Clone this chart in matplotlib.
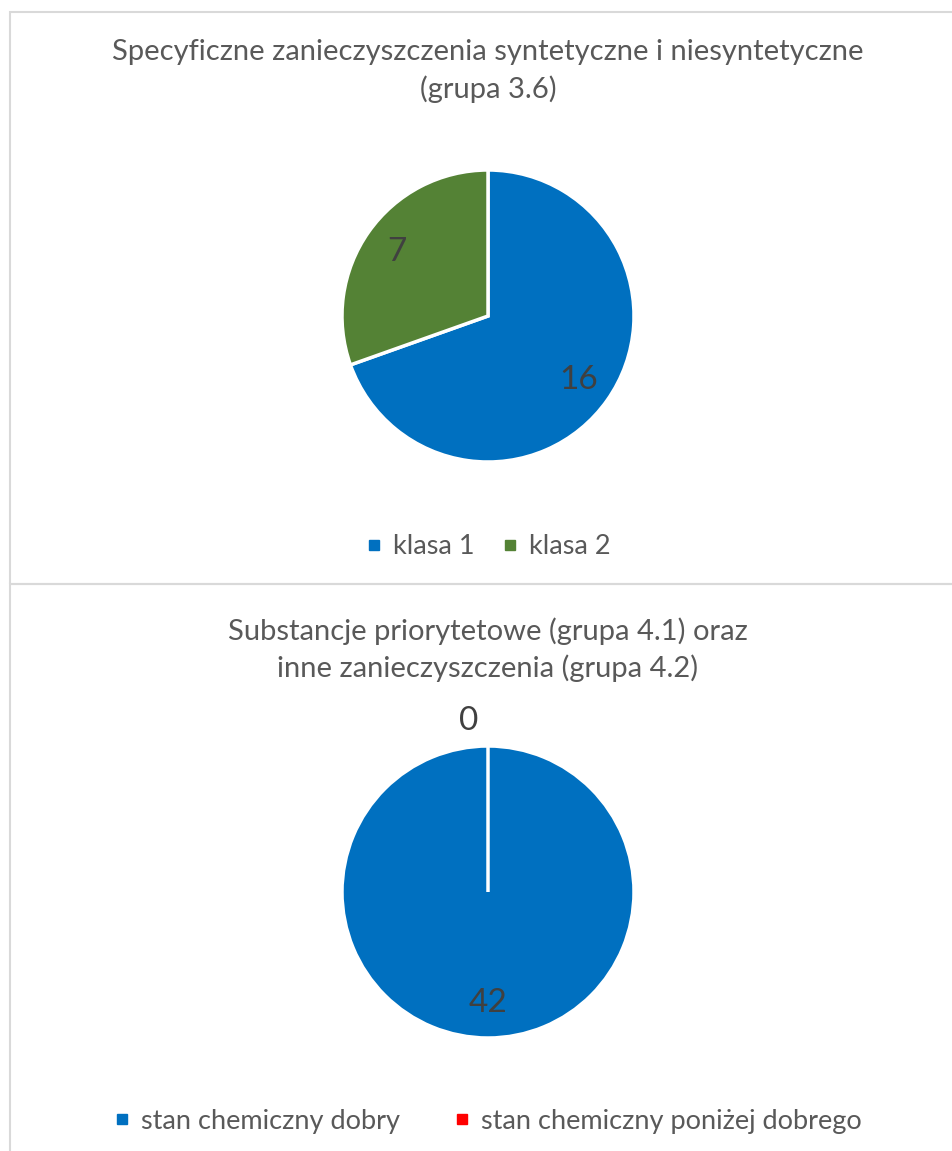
import matplotlib.pyplot as plt
from matplotlib.lines import Line2D
from matplotlib.patches import Rectangle

plt.rcParams['font.family'] = ['Lato', 'DejaVu Sans']

# dane
tytul_1 = 'Specyficzne zanieczyszczenia syntetyczne i niesyntetyczne\n(grupa 3.6)'
kategorie_1 = ['klasa 1', 'klasa 2']
wartosci_1 = [16, 7]
kolory_1 = ['#0070C0', '#548235']

tytul_2 = 'Substancje priorytetowe (grupa 4.1) oraz\ninne zanieczyszczenia (grupa 4.2)'
kategorie_2 = ['stan chemiczny dobry', 'stan chemiczny poniżej dobrego']
wartosci_2 = [42, 0]
kolory_2 = ['#0070C0', '#FF0000']

W, H = 952, 1151
fig = plt.figure(figsize=(W / 100, H / 100), dpi=100)

# ramki paneli
ramka = '#D9D9D9'
fig.patches.append(Rectangle((10 / W, 1 - 584 / H), 1, 572 / H, transform=fig.transFigure,
                             fill=False, edgecolor=ramka, linewidth=1.5))
fig.patches.append(Rectangle((10 / W, -0.01), 1, 1 - 584 / H + 0.01, transform=fig.transFigure,
                             fill=False, edgecolor=ramka, linewidth=1.5))


def rysuj(cx, cy, r, tytul, ty, kategorie, wartosci, kolory, ly, odstep):
    ax = fig.add_axes([(cx - r) / W, 1 - (cy + r) / H, 2 * r / W, 2 * r / H])
    wedges, texts = ax.pie(wartosci, colors=kolory, startangle=90, counterclock=False,
                           labels=[str(v) for v in wartosci], labeldistance=0.76,
                           wedgeprops=dict(edgecolor='white', linewidth=2.5),
                           textprops=dict(fontsize=24, color='#404040'))
    for t, v in zip(texts, wartosci):
        t.set_ha('center')
        t.set_va('center')
        if v == 0:
            # etykieta zerowego wycinka nad wykresem
            t.set_position((-0.13, 1.17))
    ax.set_xlim(-1, 1)
    ax.set_ylim(-1, 1)
    fig.text(cx / W, 1 - ty / H, tytul, ha='center', va='top', fontsize=21,
             color='#595959', linespacing=1.45)
    uchwyty = [Line2D([], [], marker='s', linestyle='', color=k, markersize=7) for k in kolory]
    fig.legend(uchwyty, kategorie, loc='center', bbox_to_anchor=(cx / W, 1 - ly / H),
               ncol=2, frameon=False, fontsize=19.5, labelcolor='#595959',
               handlelength=0.6, handletextpad=0.4, columnspacing=odstep)


rysuj(488, 316, 146, tytul_1, 39, kategorie_1, wartosci_1, kolory_1, 547, 1.0)
rysuj(488, 892, 146, tytul_2, 617, kategorie_2, wartosci_2, kolory_2, 1121, 2.0)

fig.savefig('out.png', dpi=100)
